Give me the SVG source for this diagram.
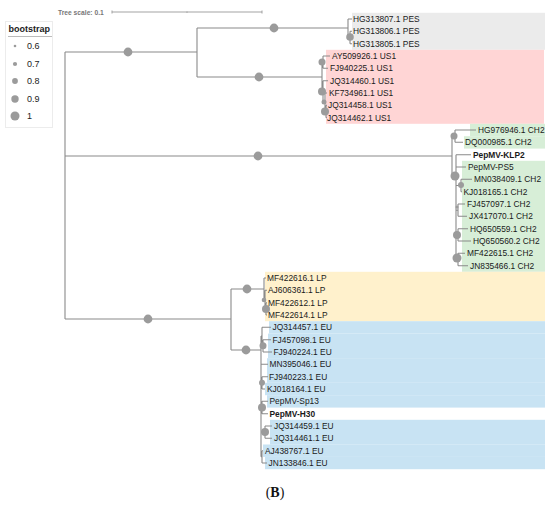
<svg xmlns="http://www.w3.org/2000/svg" width="550" height="509" viewBox="0 0 550 509">
<style>
.lbl{font-family:"Liberation Sans",Arial,sans-serif;font-size:8.4px;fill:#1a1a1a}
.b{font-weight:bold}
.br{fill:none;stroke:#8a8a8a;stroke-width:1.1}
.nd{fill:#9b9b9b}
.pes{fill:#ebebeb}.us1{fill:#ffd5d5}.ch2{fill:#d7eed7}.lp{fill:#fff1cc}.eu{fill:#c8e3f3}
.lg{font-family:"Liberation Sans",Arial,sans-serif;font-size:9px;fill:#222}
</style>
<rect width="550" height="509" fill="#fff"/>
<g id="backgrounds">
<rect class="pes" x="352" y="12.8" width="193" height="37"/>
<rect class="us1" x="326" y="49.8" width="218" height="74"/>
<rect class="ch2" x="470" y="123.8" width="75" height="12.4"/>
<rect class="ch2" x="464" y="136.2" width="81" height="12.4"/>
<rect class="ch2" x="462" y="160.8" width="83" height="111"/>
<rect class="lp" x="265" y="271.8" width="280" height="49.4"/>
<rect class="eu" x="269" y="321.2" width="276" height="12.4"/>
<rect class="eu" x="268" y="333.6" width="277" height="24.8"/>
<rect class="eu" x="267" y="358.2" width="278" height="24.6"/>
<rect class="eu" x="265" y="382.8" width="280" height="12.4"/>
<rect class="eu" x="267" y="395.2" width="278" height="12.4"/>
<rect class="eu" x="270" y="419.8" width="275" height="24.8"/>
<rect class="eu" x="263" y="444.5" width="282" height="12.4"/>
<rect class="eu" x="265" y="456.8" width="280" height="12.4"/>
</g>
<g id="scale">
<text x="58" y="14.5" style="font-family:'Liberation Sans',Arial,sans-serif;font-size:6.7px;font-weight:bold;fill:#777">Tree scale: 0.1</text>
<path d="M112,12H262M112,10.5V13.5M262,10.5V13.5M187,11.5V12.8" fill="none" stroke="#999" stroke-width="0.9"/>
</g>
<g id="legend">
<rect x="5.5" y="21.5" width="47" height="106" fill="none" stroke="#ececec" stroke-width="1"/>
<text class="lg b" x="8.5" y="32">bootstrap</text>
<line x1="8" y1="36.5" x2="52" y2="36.5" stroke="#bbb" stroke-width="1"/>
<circle class="nd" cx="15" cy="46" r="1.3"/><text class="lg" x="27" y="49.2">0.6</text>
<circle class="nd" cx="15" cy="64" r="2.1"/><text class="lg" x="27" y="67.2">0.7</text>
<circle class="nd" cx="15" cy="81" r="2.9"/><text class="lg" x="27" y="84.2">0.8</text>
<circle class="nd" cx="15" cy="99" r="3.7"/><text class="lg" x="27" y="102.2">0.9</text>
<circle class="nd" cx="15" cy="116" r="4.5"/><text class="lg" x="27" y="119.2">1</text>
</g>
<g id="connectors">
<path class="br" d="M65,52V319M65,52H197M65,156H452M65,319H231
M197,28V77M197,28H348M197,77H322
M348,19V37M348,19H352M348,37H350M350,31.3V43.7M350,31.3H352M350,43.7H352
M322,62V91.5M322,62H323M323,56V68.3M323,56H330M323,68.3H328M322,91.5H323M323,80.7V102M323,80.7H328M323,102H325M325,93V111.5M325,93H327M325,111.5H326M326,105.3V117.7M326,105.3H327M326,117.7H327
M452,136V176M452,136H455M455,130V142.3M455,130H476M455,142.3H463M452,176H456M456,154.7V259.3M456,154.7H471M456,167H466M456,185.5H461M461,179.3V191.7M461,179.3H472M461,191.7H462M456,210.2H458M458,204V216.3M458,204H465M458,216.3H467M456,234.8H458M458,228.7V241M458,228.7H468M458,241H471M456,259.3H458M458,253.3V265.7M458,253.3H465M458,265.7H468
M231,289V350M231,289H264M264,278V299.6M264,278H266M264,299.6H265M265,290.3V308.9M265,290.3H267M265,308.9H266M266,302.7V315M266,302.7H267M266,315H267
M231,350H261M261,336V456.8M261,336H262M262,327.3V345.8M262,327.3H271M262,345.8H263M263,339.7V352M263,339.7H271M263,352H272M261,364.3H268M261,382.8H262M262,376.7V389M262,376.7H268M262,389H265M261,407.5H262M262,401.3V413.7M262,401.3H268M262,413.7H268M261,432H265M265,426V438.3M265,426H272M265,438.3H272M261,456.8H262M262,450.7V463M262,450.7H263M262,463H267"/>
</g>
<g id="internal-nodes">
<circle class="nd" cx="128" cy="52" r="4.4"/>
<circle class="nd" cx="258" cy="156" r="4.4"/>
<circle class="nd" cx="148" cy="319" r="4.4"/>
<circle class="nd" cx="274" cy="28" r="4.4"/>
<circle class="nd" cx="259" cy="77" r="4.4"/>
<circle class="nd" cx="350" cy="37" r="3.8"/>
<circle class="nd" cx="322" cy="62" r="3.5"/>
<circle class="nd" cx="322" cy="91.5" r="4"/>
<circle class="nd" cx="324" cy="102" r="2.5"/>
<circle class="nd" cx="325" cy="111.5" r="4"/>
<circle class="nd" cx="454" cy="136" r="3.5"/>
<circle class="nd" cx="455" cy="176" r="4.5"/>
<circle class="nd" cx="461" cy="185" r="3"/>
<circle class="nd" cx="457" cy="207" r="1.5"/>
<circle class="nd" cx="457" cy="235" r="4"/>
<circle class="nd" cx="457" cy="258" r="4.5"/>
<circle class="nd" cx="247" cy="289" r="4.4"/>
<circle class="nd" cx="264" cy="300" r="2.3"/>
<circle class="nd" cx="266" cy="309" r="4"/>
<circle class="nd" cx="246" cy="350" r="4.4"/>
<circle class="nd" cx="263" cy="345.8" r="3.5"/>
<circle class="nd" cx="262" cy="382.8" r="3"/>
<circle class="nd" cx="262" cy="407.5" r="4"/>
<circle class="nd" cx="265" cy="432" r="4"/>
</g>
<g id="leaves">
<g id="leaf-HG313807"><text class="lbl" x="353" y="22">HG313807.1 PES</text></g>
<g id="leaf-HG313806"><text class="lbl" x="353" y="34.3">HG313806.1 PES</text></g>
<g id="leaf-HG313805"><text class="lbl" x="353" y="46.7">HG313805.1 PES</text></g>
<g id="leaf-AY509926"><text class="lbl" x="332" y="59">AY509926.1 US1</text></g>
<g id="leaf-FJ940225"><text class="lbl" x="330" y="71.3">FJ940225.1 US1</text></g>
<g id="leaf-JQ314460"><text class="lbl" x="330" y="83.7">JQ314460.1 US1</text></g>
<g id="leaf-KF734961"><text class="lbl" x="329" y="96">KF734961.1 US1</text></g>
<g id="leaf-JQ314458"><text class="lbl" x="328" y="108.3">JQ314458.1 US1</text></g>
<g id="leaf-JQ314462"><text class="lbl" x="327" y="120.7">JQ314462.1 US1</text></g>
<g id="leaf-HG976946"><text class="lbl" x="478" y="133">HG976946.1 CH2</text></g>
<g id="leaf-DQ000985"><text class="lbl" x="465" y="145.3">DQ000985.1 CH2</text></g>
<g id="leaf-KLP2"><text class="lbl b" x="473" y="157.7">PepMV-KLP2</text></g>
<g id="leaf-PS5"><text class="lbl" x="468" y="170">PepMV-PS5</text></g>
<g id="leaf-MN038409"><text class="lbl" x="474" y="182.3">MN038409.1 CH2</text></g>
<g id="leaf-KJ018165"><text class="lbl" x="463.5" y="194.7">KJ018165.1 CH2</text></g>
<g id="leaf-FJ457097"><text class="lbl" x="467" y="207">FJ457097.1 CH2</text></g>
<g id="leaf-JX417070"><text class="lbl" x="469" y="219.3">JX417070.1 CH2</text></g>
<g id="leaf-HQ650559"><text class="lbl" x="470" y="231.7">HQ650559.1 CH2</text></g>
<g id="leaf-HQ650560"><text class="lbl" x="473" y="244">HQ650560.2 CH2</text></g>
<g id="leaf-MF422615"><text class="lbl" x="467" y="256.3">MF422615.1 CH2</text></g>
<g id="leaf-JN835466"><text class="lbl" x="470" y="268.7">JN835466.1 CH2</text></g>
<g id="leaf-MF422616"><text class="lbl" x="267" y="281">MF422616.1 LP</text></g>
<g id="leaf-AJ606361"><text class="lbl" x="268" y="293.3">AJ606361.1 LP</text></g>
<g id="leaf-MF422612"><text class="lbl" x="268" y="305.7">MF422612.1 LP</text></g>
<g id="leaf-MF422614"><text class="lbl" x="268" y="318">MF422614.1 LP</text></g>
<g id="leaf-JQ314457"><text class="lbl" x="272.5" y="330.3">JQ314457.1 EU</text></g>
<g id="leaf-FJ457098"><text class="lbl" x="272.5" y="342.7">FJ457098.1 EU</text></g>
<g id="leaf-FJ940224"><text class="lbl" x="273.5" y="355">FJ940224.1 EU</text></g>
<g id="leaf-MN395046"><text class="lbl" x="269.5" y="367.3">MN395046.1 EU</text></g>
<g id="leaf-FJ940223"><text class="lbl" x="269" y="379.7">FJ940223.1 EU</text></g>
<g id="leaf-KJ018164"><text class="lbl" x="267" y="392">KJ018164.1 EU</text></g>
<g id="leaf-Sp13"><text class="lbl" x="269.5" y="404.3">PepMV-Sp13</text></g>
<g id="leaf-H30"><text class="lbl b" x="269.5" y="416.7">PepMV-H30</text></g>
<g id="leaf-JQ314459"><text class="lbl" x="274" y="429">JQ314459.1 EU</text></g>
<g id="leaf-JQ314461"><text class="lbl" x="274" y="441.3">JQ314461.1 EU</text></g>
<g id="leaf-AJ438767"><text class="lbl" x="265" y="453.7">AJ438767.1 EU</text></g>
<g id="leaf-JN133846"><text class="lbl" x="268.5" y="466">JN133846.1 EU</text></g>
</g>
<text x="275" y="497" text-anchor="middle" style="font-family:'Liberation Serif','Times New Roman',serif;font-size:14px;fill:#111">(<tspan font-weight="bold">B</tspan>)</text>
</svg>
